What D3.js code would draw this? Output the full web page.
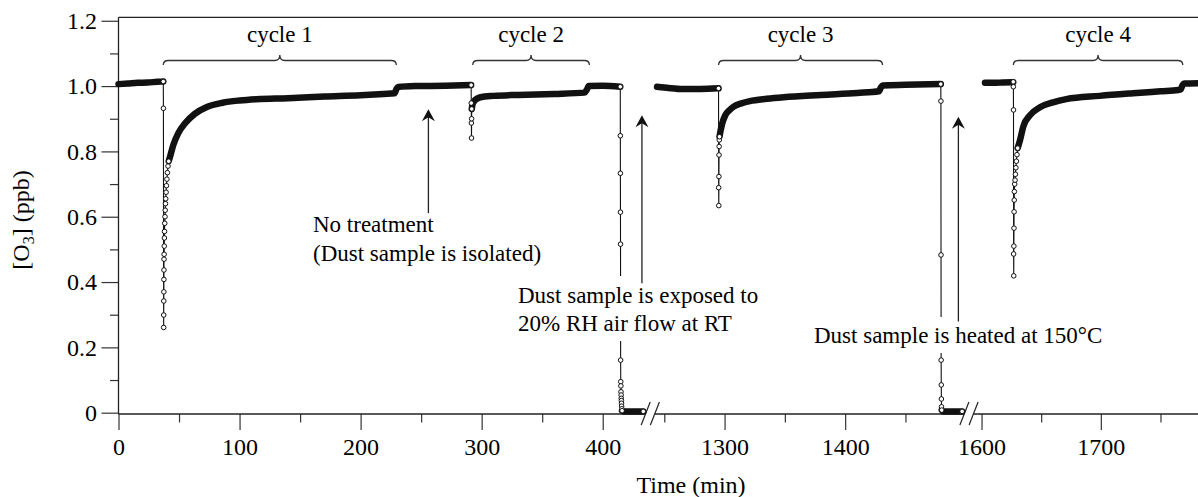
<!DOCTYPE html>
<html><head><meta charset="utf-8">
<script src="https://cdn.jsdelivr.net/npm/d3@7"></script>
<style>
body{margin:0;background:#fff}
svg{display:block}
text{font-family:"Liberation Serif","Times New Roman",serif;fill:#000}
</style>
</head><body>
<svg id="c" width="1198" height="497"></svg>
<script>
// ---------- tick values ----------
const yTicksMajor = [0, 0.2, 0.4, 0.6, 0.8, 1.0, 1.2];
const yTickLabels = ["0", "0.2", "0.4", "0.6", "0.8", "1.0", "1.2"];
const yTicksMinor = [0.1, 0.3, 0.5, 0.7, 0.9, 1.1];
const xTicksMajor = [0, 100, 200, 300, 400, 1300, 1400, 1600, 1700];
const xTicksMinor = [50, 150, 250, 350, 1250, 1350, 1450, 1650, 1750];
const segmentDomains = [[0, 439.3], [1238.4, 1502.7], [1589.5, 1784.8]];

// ---------- data: [time (min), O3 (ppb)] ----------
// dense runs (markers packed so tightly they read as a thick band)
const base0 = [[0,1.006],[8,1.008],[16,1.010],[24,1.011],[32,1.013],[37,1.014]];
const rec1 = [[41.5,0.77],[42.6,0.784],[45.3,0.82],[49.4,0.856],[55,0.886],[63,0.915],[73,0.936],[86,0.949],[100,0.956],[114,0.96],[140,0.963],[170,0.968],[200,0.972],[219,0.976],[228,0.978],[229.5,0.99],[231,0.997],[245,1.0],[270,1.001],[291.3,1.003]];
const rec2 = [[291.8,0.93],[292.5,0.945],[294,0.955],[296,0.961],[299,0.966],[310,0.97],[330,0.973],[360,0.976],[385,0.98],[387,0.99],[388.5,1.0],[400,1.001],[414.5,0.998]];
const tail3 = [[416,0.006],[417,0.004],[420,0.004],[425,0.004],[430,0.004],[433.5,0.004]];
const base3 = [[1244,0.998],[1252,0.995],[1265,0.991],[1280,0.991],[1295,0.993]];
const rec3 = [[1295.8,0.845],[1296.5,0.86],[1298,0.885],[1300.5,0.91],[1304,0.926],[1307.5,0.937],[1314,0.947],[1321,0.954],[1335,0.961],[1349,0.966],[1380,0.973],[1410,0.979],[1428,0.984],[1429.5,0.995],[1431,1.002],[1450,1.004],[1479.3,1.006]];
const tail5 = [[1480.1,0.008],[1481,0.004],[1485,0.004],[1490,0.004],[1497,0.004]];
const base6 = [[1602.9,1.01],[1610,1.01],[1618,1.011],[1626.6,1.012]];
const rec4 = [[1630.3,0.81],[1632.3,0.835],[1635,0.876],[1640.7,0.911],[1649,0.935],[1660,0.95],[1671,0.96],[1699,0.97],[1727,0.978],[1750,0.984],[1765,0.988],[1767,0.99],[1768.5,1.003],[1770,1.008],[1782,1.009]];
// sparse runs (individual open-circle markers)
const drop1 = [[37,1.014],[37.1,0.932],[37.3,0.261],[37.35,0.299],[37.4,0.342],[37.45,0.370],[37.5,0.408],[37.55,0.437],[37.6,0.470],[37.7,0.485],[37.8,0.51],[37.9,0.535],[38.0,0.555],[38.2,0.58],[38.4,0.60],[38.6,0.62],[38.8,0.64],[39.0,0.655],[39.3,0.675],[39.6,0.695],[40.0,0.715],[40.4,0.735],[40.9,0.755],[41.5,0.77]];
const drop2 = [[291.3,1.003],[291.4,0.948],[291.5,0.887],[291.6,0.841],[291.7,0.90],[291.8,0.93]];
const drop3 = [[414.5,0.998],[414.55,0.848],[414.6,0.733],[414.65,0.614],[414.7,0.516],[414.8,0.161],[414.9,0.095],[415.0,0.082],[415.1,0.064],[415.2,0.054],[415.3,0.044],[415.4,0.037],[415.5,0.029],[415.6,0.020],[415.8,0.012],[416,0.006]];
const drop4 = [[1295,0.993],[1295.1,0.689],[1295.2,0.634],[1295.3,0.723],[1295.4,0.789],[1295.5,0.815],[1295.6,0.835],[1295.8,0.845]];
const drop5 = [[1479.3,1.006],[1479.4,0.954],[1479.5,0.483],[1479.6,0.161],[1479.7,0.085],[1479.8,0.042],[1479.9,0.018],[1480.1,0.008]];
const drop6 = [[1626.6,1.013],[1626.7,0.998],[1626.8,0.927],[1626.9,0.486],[1627.0,0.419],[1627.1,0.510],[1627.2,0.565],[1627.3,0.615],[1627.4,0.651],[1627.5,0.677],[1627.8,0.70],[1628.1,0.712],[1628.4,0.73],[1628.8,0.75],[1629.2,0.77],[1629.7,0.79],[1630.3,0.81]];

// ---------- annotations ----------
const cycleLabels = ["cycle 1", "cycle 2", "cycle 3", "cycle 4"];
const cycleStart = [37, 292.6, 1295, 1626.7];
const cycleEnd = [229.5, 389, 1431, 1768.7];
const arrowTime = [256, 432.4, 1493.9];
const arrowTip = [0.929, 0.911, 0.906];
const arrowBase = [0.611, 0.396, 0.279];
const breakTimes = [439.3, 1502.7];

// ---------- layout ----------
const svg = d3.select("#c");
const L = 118.5, T = 17.3, B = 414, R = 1202;
const y = d3.scaleLinear().domain([-0.004, 1.2106]).range([B, T]);
const segRanges = [[L, 650.3], [650.3, 969], [969, R]];
const xs = segmentDomains.map((d, i) => d3.scaleLinear().domain(d).range(segRanges[i]));
function x(t) {
  for (const s of xs) { const d = s.domain(); if (t >= d[0] - 1e-9 && t <= d[1] + 1e-9) return s(t); }
  return NaN;
}
const ink = "#111";

// ---------- axes ----------
const gx = svg.append("g").attr("transform", `translate(0,${B})`);
xs.forEach((s, i) => {
  const d = s.domain();
  const maj = xTicksMajor.filter(v => v >= d[0] && v <= d[1]);
  const mnr = xTicksMinor.filter(v => v >= d[0] && v <= d[1]);
  const a = gx.append("g").call(d3.axisBottom(s).tickValues(maj).tickSize(16).tickPadding(8).tickFormat(d3.format("d")));
  a.select(".domain").remove();
  a.selectAll("line").attr("stroke", "#333").attr("stroke-width", 1.2);
  a.selectAll("text").attr("font-size", 24).attr("font-family", "Liberation Serif").attr("fill", "#000");
  const m = gx.append("g").call(d3.axisBottom(s).tickValues(mnr).tickSize(8.5).tickFormat(""));
  m.select(".domain").remove();
  m.selectAll("line").attr("stroke", "#333").attr("stroke-width", 1.2);
});
// bottom axis line with breaks
const breakPx = breakTimes.map(t => x(t));
const bx = [L].concat(...breakPx.map(c => [c - 4.6, c + 4.6])).concat([1198]);
for (let i = 0; i < bx.length; i += 2) {
  svg.append("line").attr("x1", bx[i]).attr("x2", bx[i + 1]).attr("y1", B).attr("y2", B)
    .attr("stroke", "#222").attr("stroke-width", 1.3);
}
breakPx.forEach(c => {
  [-4.6, 4.6].forEach(o => {
    svg.append("line").attr("x1", c + o - 4.5).attr("y1", B + 11).attr("x2", c + o + 4.5).attr("y2", B - 12)
      .attr("stroke", "#222").attr("stroke-width", 1.2);
  });
});
// left axis
const gy = svg.append("g").attr("transform", `translate(${L},0)`);
const ya = gy.append("g").call(d3.axisLeft(y).tickValues(yTicksMajor).tickSize(17).tickPadding(4.5)
  .tickFormat((d, i) => yTickLabels[i]));
ya.select(".domain").remove();
ya.selectAll("line").attr("stroke", "#333").attr("stroke-width", 1.2);
ya.selectAll("text").attr("font-size", 24).attr("font-family", "Liberation Serif").attr("fill", "#000");
const ym = gy.append("g").call(d3.axisLeft(y).tickValues(yTicksMinor).tickSize(8.5).tickFormat(""));
ym.select(".domain").remove();
ym.selectAll("line").attr("stroke", "#333").attr("stroke-width", 1.2);
svg.append("line").attr("x1", L).attr("x2", L).attr("y1", T).attr("y2", B).attr("stroke", "#222").attr("stroke-width", 1.3);
svg.append("line").attr("x1", L).attr("x2", 1198).attr("y1", T).attr("y2", T).attr("stroke", "#222").attr("stroke-width", 1.3);

// axis titles
svg.append("text").attr("x", 691).attr("y", 492.5).attr("text-anchor", "middle").attr("font-size", 24).text("Time (min)");
const yt = svg.append("text").attr("transform", "translate(29,220) rotate(-90)").attr("text-anchor", "middle").attr("font-size", 24);
yt.append("tspan").text("[O");
yt.append("tspan").attr("font-size", 16).attr("dy", 5).text("3");
yt.append("tspan").attr("dy", -5).text("] (ppb)");

// ---------- data drawing ----------
const segSeries = [
  [base0, drop1, rec1, drop2, rec2, drop3, tail3],
  [base3, drop4, rec3, drop5, tail5],
  [base6, drop6, rec4]
];
const thin = d3.line().x(d => x(d[0])).y(d => y(d[1]));
const g = svg.append("g");
segSeries.forEach(parts => {
  g.append("path").datum([].concat(...parts)).attr("d", thin)
    .attr("fill", "none").attr("stroke", ink).attr("stroke-width", 1.1);
});
const dense = [base0, rec1, rec2, tail3, base3, rec3, tail5, base6, rec4];
const band = d3.line().x(d => x(d[0])).y(d => y(d[1])).curve(d3.curveMonotoneX);
dense.forEach(arr => {
  g.append("path").datum(arr).attr("d", band).attr("fill", "none").attr("stroke", ink)
    .attr("stroke-width", 6.5).attr("stroke-linecap", "round").attr("stroke-linejoin", "round");
});
const sparse = [drop1, drop2, drop3, tail3.slice(-1), drop4, drop5, tail5.slice(-1), drop6];
sparse.forEach(arr => {
  g.selectAll(null).data(arr).enter().append("circle")
    .attr("cx", d => x(d[0])).attr("cy", d => y(d[1])).attr("r", 2.3)
    .attr("fill", "#fff").attr("stroke", ink).attr("stroke-width", 1);
});

// ---------- cycle braces ----------
cycleLabels.forEach((lab, i) => {
  const x1 = x(cycleStart[i]), x2 = x(cycleEnd[i]), xm = (x1 + x2) / 2;
  const yb = 65, yl = 60.5, yp = 55, r = 5;
  const p = `M${x1},${yb} Q${x1},${yl} ${x1 + r},${yl} L${xm - r},${yl} Q${xm},${yl} ${xm},${yp} ` +
            `Q${xm},${yl} ${xm + r},${yl} L${x2 - r},${yl} Q${x2},${yl} ${x2},${yb}`;
  svg.append("path").attr("d", p).attr("fill", "none").attr("stroke", "#333").attr("stroke-width", 1.3);
  svg.append("text").attr("x", xm).attr("y", 41.5).attr("text-anchor", "middle").attr("font-size", 23).text(lab);
});

// ---------- annotation texts ----------
function block(lines, x0, baselines, box) {
  if (box) svg.append("rect").attr("x", box[0]).attr("y", box[1]).attr("width", box[2]).attr("height", box[3]).attr("fill", "#fff");
  lines.forEach((s, i) => svg.append("text").attr("x", x0).attr("y", baselines[i]).attr("font-size", 23).text(s));
}
block(["No treatment", "(Dust sample is isolated)"], 313, [232, 261], null);
block(["Dust sample is exposed to", "20% RH air flow at RT"], 518, [303, 331], [512, 276, 254, 65]);
block(["Dust sample is heated at 150°C"], 814, [342.5], [808, 317, 300, 36]);

// ---------- arrows ----------
arrowTime.forEach((t, i) => {
  const ax = x(t), yt0 = y(arrowTip[i]), yb0 = y(arrowBase[i]);
  svg.append("line").attr("x1", ax).attr("x2", ax).attr("y1", yt0 + 6).attr("y2", yb0)
    .attr("stroke", "#222").attr("stroke-width", 1.3);
  svg.append("path").attr("d", `M${ax},${yt0} L${ax - 6.5},${yt0 + 12} L${ax},${yt0 + 8} L${ax + 6.5},${yt0 + 12} Z`)
    .attr("fill", "#111");
});
</script>
</body></html>
